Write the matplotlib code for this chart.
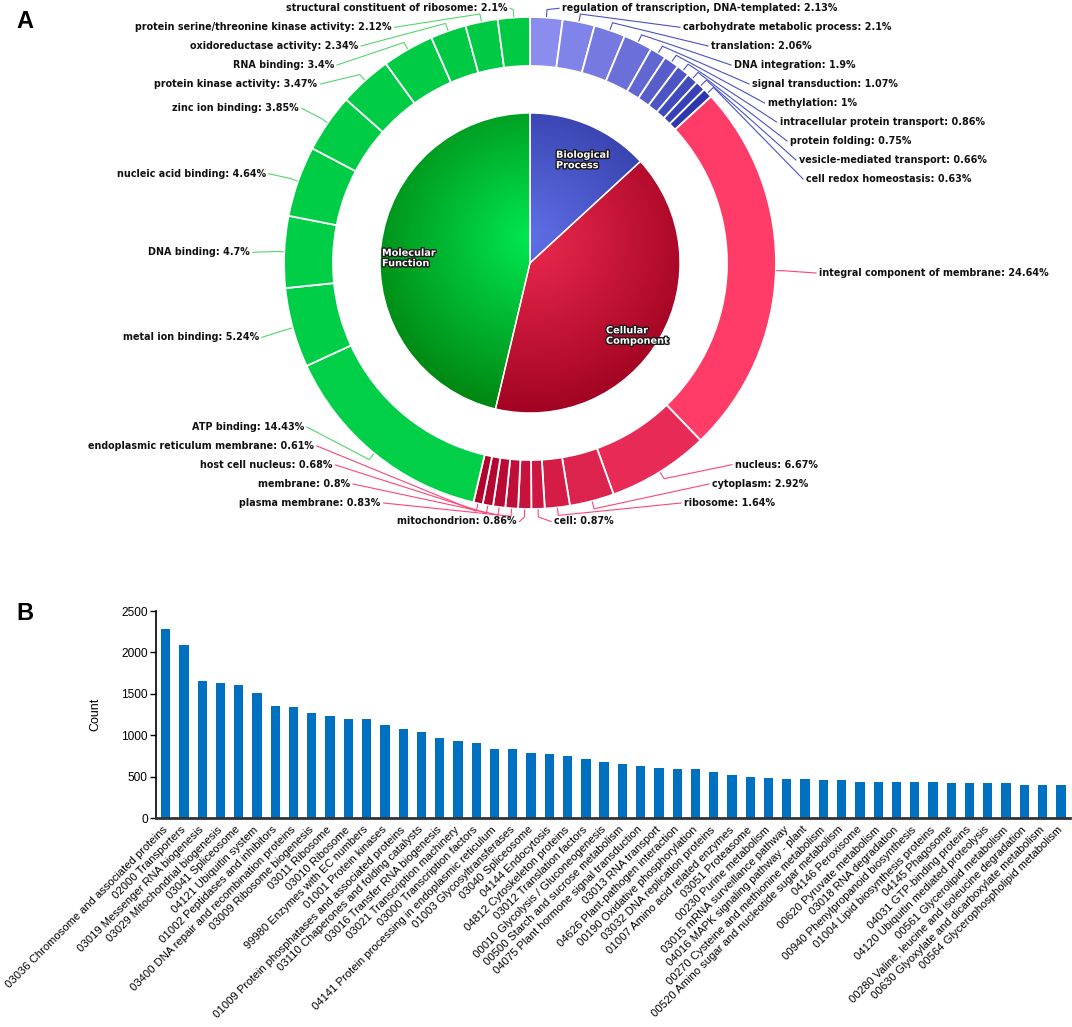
import matplotlib
matplotlib.use('Agg')
import matplotlib.pyplot as plt
import matplotlib.patheffects as pe
import numpy as np
from matplotlib.colors import to_rgb

# ---------------- panel A data (GO terms, % of annotated genes) ----------------
bp_terms = ['regulation of transcription, DNA-templated', 'carbohydrate metabolic process',
            'translation', 'DNA integration', 'signal transduction', 'methylation',
            'intracellular protein transport', 'protein folding',
            'vesicle-mediated transport', 'cell redox homeostasis']
bp_pct = [2.13, 2.1, 2.06, 1.9, 1.07, 1, 0.86, 0.75, 0.66, 0.63]

cc_terms = ['integral component of membrane', 'nucleus', 'cytoplasm', 'ribosome', 'cell',
            'mitochondrion', 'plasma membrane', 'membrane', 'host cell nucleus',
            'endoplasmic reticulum membrane']
cc_pct = [24.64, 6.67, 2.92, 1.64, 0.87, 0.86, 0.83, 0.8, 0.68, 0.61]

mf_terms = ['ATP binding', 'metal ion binding', 'DNA binding', 'nucleic acid binding',
            'zinc ion binding', 'protein kinase activity', 'RNA binding',
            'oxidoreductase activity', 'protein serine/threonine kinase activity',
            'structural constituent of ribosome']
mf_pct = [14.43, 5.24, 4.7, 4.64, 3.85, 3.47, 3.4, 2.34, 2.12, 2.1]

categories = ['Biological\nProcess', 'Cellular\nComponent', 'Molecular\nFunction']

# ---------------- panel B data (KEGG categories) ----------------
kegg_labels = [
    '03036 Chromosome and associated proteins', '02000 Transporters',
    '03019 Messenger RNA biogenesis', '03029 Mitochondrial biogenesis',
    '03041 Spliceosome', '04121 Ubiquitin system', '01002 Peptidases and inhibitors',
    '03400 DNA repair and recombination proteins', '03009 Ribosome biogenesis',
    '03011 Ribosome', '03010 Ribosome', '99980 Enzymes with EC numbers',
    '01001 Protein kinases', '01009 Protein phosphatases and associated proteins',
    '03110 Chaperones and folding catalysts', '03016 Transfer RNA biogenesis',
    '03021 Transcription machinery', '03000 Transcription factors',
    '04141 Protein processing in endoplasmic reticulum', '01003 Glycosyltransferases',
    '03040 Spliceosome', '04144 Endocytosis', '04812 Cytoskeleton proteins',
    '03012 Translation factors', '00010 Glycolysis / Gluconeogenesis',
    '00500 Starch and sucrose metabolism', '04075 Plant hormone signal transduction',
    '03013 RNA transport', '04626 Plant-pathogen interaction',
    '00190 Oxidative phosphorylation', '03032 DNA replication proteins',
    '01007 Amino acid related enzymes', '03051 Proteasome', '00230 Purine metabolism',
    '03015 mRNA surveillance pathway', '04016 MAPK signaling pathway - plant',
    '00270 Cysteine and methionine metabolism',
    '00520 Amino sugar and nucleotide sugar metabolism', '04146 Peroxisome',
    '00620 Pyruvate metabolism', '03018 RNA degradation',
    '00940 Phenylpropanoid biosynthesis', '01004 Lipid biosynthesis proteins',
    '04145 Phagosome', '04031 GTP-binding proteins',
    '04120 Ubiquitin mediated proteolysis', '00561 Glycerolipid metabolism',
    '00280 Valine, leucine and isoleucine degradation',
    '00630 Glyoxylate and dicarboxylate metabolism', '00564 Glycerophospholipid metabolism']
kegg_counts = [2287, 2094, 1660, 1636, 1612, 1511, 1359, 1343, 1266, 1234,
               1202, 1200, 1130, 1081, 1045, 969, 929, 905, 836, 832,
               788, 772, 748, 716, 679, 655, 631, 607, 595, 591,
               563, 523, 498, 486, 478, 470, 466, 462, 442, 442,
               442, 442, 434, 430, 422, 422, 422, 406, 406, 398]

# ---------------- layout (pixels, y measured from top) ----------------
W, H = 1072, 1027
CX, CY = 530, 263
R_PIE, R_OUT, R_WIDTH = 150, 246, 49

label_pos = {
    'regulation of transcription, DNA-templated': (562, 8.3),
    'carbohydrate metabolic process': (683, 27.3),
    'translation': (711, 46),
    'DNA integration': (734, 65),
    'signal transduction': (752, 84),
    'methylation': (767.5, 103),
    'intracellular protein transport': (779.5, 122),
    'protein folding': (790, 141),
    'vesicle-mediated transport': (799, 160),
    'cell redox homeostasis': (806, 179),
    'integral component of membrane': (819, 273),
    'nucleus': (735, 464.7),
    'cytoplasm': (712, 484),
    'ribosome': (684, 503),
    'cell': (554, 521.5),
    'mitochondrion': (516.5, 521.5),
    'plasma membrane': (380.7, 503),
    'membrane': (350, 484),
    'host cell nucleus': (332.5, 465),
    'endoplasmic reticulum membrane': (314, 446),
    'ATP binding': (304, 427),
    'metal ion binding': (259, 337.3),
    'DNA binding': (249.6, 252.3),
    'nucleic acid binding': (265.7, 173.7),
    'zinc ion binding': (298.6, 108.3),
    'protein kinase activity': (317.5, 84),
    'RNA binding': (334, 65),
    'oxidoreductase activity': (358, 46),
    'protein serine/threonine kinase activity': (391.4, 27.3),
    'structural constituent of ribosome': (507, 8.3),
}
inner_label_pos = [(556, 160), (606, 335.5), (382, 258)]


def shade(c1, c2, n, gamma=1.0):
    a, b = np.array(to_rgb(c1)), np.array(to_rgb(c2))
    return [tuple(a * (1 - t) + b * t) for t in np.linspace(0, 1, n) ** gamma]


fig = plt.figure(figsize=(W / 100, H / 100), dpi=100)

# ================= panel A =================
ax = fig.add_axes([0, 0, 1, 1])
center = (CX, H - CY)

group_vals = [sum(bp_pct), sum(cc_pct), sum(mf_pct)]
inner_light = ['#5f6fe6', '#ec2a50', '#00e852']
inner_dark = ['#29329a', '#9c001e', '#007d0c']
wedges, _ = ax.pie(group_vals, radius=R_PIE, center=center, startangle=90,
                   counterclock=False, colors=inner_light,
                   wedgeprops=dict(edgecolor='white', linewidth=1.0))

# radial shading of the inner pie
gx = np.linspace(CX - R_PIE, CX + R_PIE, 300)
gy = np.linspace(H - CY - R_PIE, H - CY + R_PIE, 300)
XX, YY = np.meshgrid(gx, gy)
dist = np.hypot(XX - CX, YY - (H - CY + 25))
t = np.clip(dist / 190.0, 0, 1)[..., None]
for w, lc, dc in zip(wedges, inner_light, inner_dark):
    img = np.array(to_rgb(lc)) * (1 - t) + np.array(to_rgb(dc)) * t
    im = ax.imshow(img, extent=[gx[0], gx[-1], gy[0], gy[-1]], origin='lower',
                   zorder=1.5, interpolation='bilinear')
    im.set_clip_path(w)
    w.set_facecolor('none')
    w.set_zorder(2)

for txt, (lx, ly) in zip(categories, inner_label_pos):
    ax.text(lx, H - ly, txt, color='white', fontsize=7, fontweight='bold',
            ha='left', va='center', linespacing=1.05, zorder=5,
            path_effects=[pe.withStroke(linewidth=2.0, foreground='#1a1a1a')])

# outer ring
ring_terms = bp_terms + cc_terms + mf_terms
ring_vals = bp_pct + cc_pct + mf_pct
ring_colors = (shade('#8a8cee', '#2e38ae', 10) +
               shade('#ff3c68', '#b0022c', 10, gamma=0.55) +
               shade('#00cf47', '#00c943', 10))
line_colors = ['#4a52c8'] * 10 + ['#ff4575'] * 10 + ['#55d56e'] * 10
ax.pie(ring_vals, radius=R_OUT, center=center, startangle=90, counterclock=False,
       colors=ring_colors,
       wedgeprops=dict(width=R_WIDTH, edgecolor='white', linewidth=1.3))

# labels with leader lines
cum = np.cumsum([0] + ring_vals)
total = cum[-1]
for i, term in enumerate(ring_terms):
    mid = (cum[i] + ring_vals[i] / 2) / total * 2 * np.pi
    sx, sy = np.sin(mid), np.cos(mid)
    p0 = (CX + (R_OUT + 1) * sx, H - CY + (R_OUT + 1) * sy)
    p1 = (CX + (R_OUT + 8) * sx, H - CY + (R_OUT + 8) * sy)
    lx, ly = label_pos[term]
    right = lx > CX or term == 'cell'
    if term == 'mitochondrion':
        right = False
    ha = 'left' if right else 'right'
    p2 = (lx - 3 if right else lx + 3, H - ly)
    ax.plot([p0[0], p1[0], p2[0]], [p0[1], p1[1], p2[1]], color=line_colors[i],
            lw=0.8, zorder=1, solid_joinstyle='round')
    ax.text(lx, H - ly, f'{term}: {ring_vals[i]:g}%', fontsize=6.9,
            fontweight='bold', color='#111111', ha=ha, va='center')

ax.set_xlim(0, W)
ax.set_ylim(0, H)
ax.set_aspect('equal')
ax.axis('off')

fig.text(24.5 / W, 1 - 21.5 / H, 'A', fontsize=17, fontweight='bold',
         family='Liberation Sans', ha='center', va='center')
fig.text(24.5 / W, 1 - 613 / H, 'B', fontsize=17, fontweight='bold',
         family='Liberation Sans', ha='center', va='center')

# ================= panel B =================
ax2 = fig.add_axes([156 / W, 1 - 818.3 / H, (1070 - 156) / W, (818.3 - 611) / H])
x = np.arange(len(kegg_counts))
ax2.bar(x, kegg_counts, width=0.51, color='#0070C0')
ax2.set_xlim(-0.53, len(kegg_counts) - 0.5)
ax2.set_ylim(0, 2500)
ax2.set_yticks(range(0, 2501, 500))
ax2.set_xticks(x)
ax2.set_xticklabels(kegg_labels, rotation=45, ha='right', va='center',
                    rotation_mode='anchor', fontsize=8.1, family='Liberation Sans')
for lab in ax2.get_yticklabels():
    lab.set_family('Liberation Sans')
ax2.tick_params(axis='y', direction='out', length=4, width=1, labelsize=8.6, pad=2)
ax2.tick_params(axis='x', length=0, pad=7)
ax2.spines['top'].set_visible(False)
ax2.spines['right'].set_visible(False)
ax2.spines['left'].set_linewidth(1.2)
ax2.spines['bottom'].set_linewidth(2)
ax2.spines['bottom'].set_color('#333333')
ax2.set_ylabel('Count', fontsize=9, family='Liberation Sans', labelpad=14)

fig.savefig('out.png', dpi=100)
